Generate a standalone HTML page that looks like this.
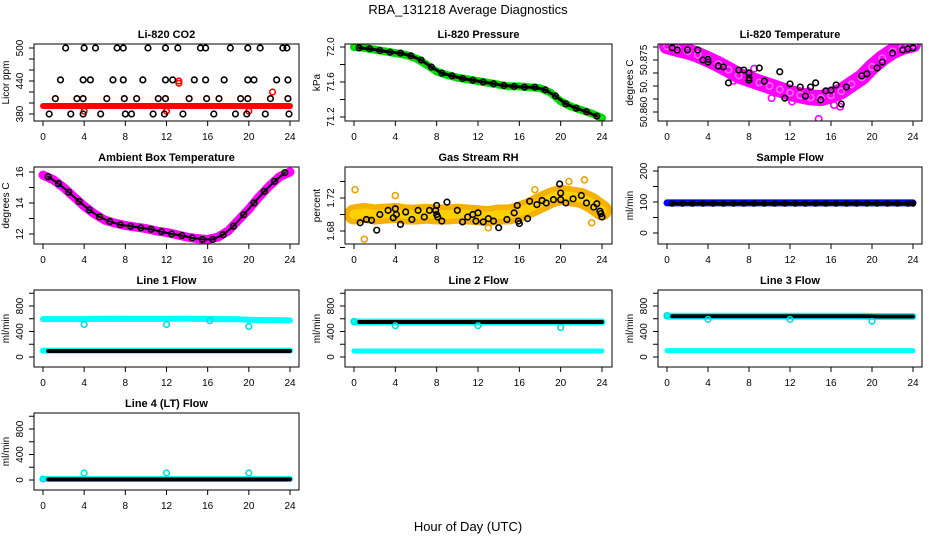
<!DOCTYPE html>
<html><head><meta charset="utf-8"><style>
html,body{margin:0;padding:0;background:#fff;}
svg{display:block;font-family:"Liberation Sans",Arial,sans-serif;}
</style></head><body>
<svg id="c" width="936" height="540" viewBox="0 0 936 540" xmlns="http://www.w3.org/2000/svg">
<text x="468" y="14" text-anchor="middle" font-size="13">RBA_131218  Average Diagnostics</text>
<text x="468" y="531" text-anchor="middle" font-size="13">Hour of Day (UTC)</text>
</svg>
<script>
const hours = [0,1,2,3,4,5,6,7,8,9,10,11,12,13,14,15,16,17,18,19,20,21,22,23,24];
const halfHours = [0.5,1.5,2.5,3.5,4.5,5.5,6.5,7.5,8.5,9.5,10.5,11.5,12.5,13.5,14.5,15.5,16.5,17.5,18.5,19.5,20.5,21.5,22.5,23.5];
const xTicks = [0,4,8,12,16,20,24];

// CO2
const co2BlackHrs = [2.2,4.0,5.1,7.2,7.8,10.2,11.9,13.1,15.3,15.8,18.2,19.9,21.1,23.3,23.7, 1.7,3.9,4.6,6.8,7.8,9.7,11.9,12.6,14.7,15.8,17.6,19.9,20.5,22.7,23.8, 1.2,3.3,3.9,6.2,7.9,9.1,11.2,11.9,14.2,15.9,17.1,19.2,19.9,22.1,23.8, 0.6,2.7,3.9,5.6,8.0,8.6,10.7,11.8,13.6,16.6,18.7,19.8,21.6,23.9];
const co2BlackVals = [500,500,500,500,500,500,500,500,500,500,500,500,500,500,500, 442,442,442,442,442,442,442,442,442,442,442,442,442,442,442, 408,408,408,408,408,408,408,408,408,408,408,408,408,408,408, 380,380,380,380,380,380,380,380,380,380,380,380,380,380];
const co2RedBand = [394.5,394.5,394.5,394.5,394.5,394.5,394.5,394.5,394.5,394.5,394.5,394.5,394.5,394.5,394.5,394.5,394.5,394.5,394.5,394.5,394.5,394.5,394.5,394.5,394.5];
const co2RedOutHrs = [4.0,12.0,13.2,13.2,20.0,22.3];
const co2RedOutVals = [385,385,440,436,385,420];

// Pressure
const pressureBand = [72.0,71.99,71.97,71.95,71.93,71.91,71.87,71.80,71.72,71.68,71.65,71.63,71.61,71.59,71.57,71.55,71.55,71.54,71.53,71.48,71.38,71.32,71.28,71.24,71.19];
const pressureBlack = [71.99,71.98,71.96,71.94,71.93,71.90,71.85,71.77,71.70,71.67,71.64,71.62,71.60,71.58,71.56,71.55,71.54,71.54,71.51,71.44,71.35,71.30,71.26,71.21];

// Li-820 temperature
const tempBand = [50.8790,50.8782,50.8775,50.8765,50.8752,50.8738,50.8722,50.8705,50.8695,50.8685,50.8675,50.8665,50.8655,50.8648,50.8642,50.8640,50.8648,50.8660,50.8680,50.8700,50.8730,50.8755,50.8775,50.8788,50.8795];
const tempBlackHrs = [0.5,1,2,3,3.5,4,4,5,5.5,6,7,7.5,8,8,8,9,9.5,11,11.5,12,13,13.5,14,14.5,15,15.5,16,16.5,17,17.5,19,19.5,20.5,21,22,23,23.5,24];
const tempBlackVals = [50.8785,50.8779,50.8779,50.8779,50.8750,50.8752,50.8744,50.8733,50.8730,50.8684,50.8721,50.8721,50.8713,50.8698,50.8692,50.8727,50.8689,50.8716,50.8640,50.8681,50.8672,50.8646,50.8672,50.8684,50.8635,50.8661,50.8663,50.8678,50.8623,50.8672,50.8704,50.8710,50.8727,50.8744,50.8770,50.8779,50.8782,50.8785];
const tempOutHrs = [1.5,6.5,8.5,10.2,12.2,13.8,14.8,16.3,16.9];
const tempOutVals = [50.8770,50.8690,50.8725,50.8640,50.8630,50.8660,50.8580,50.8620,50.8615];

// Ambient box temperature
const ambientBand = [15.8,15.5,15.0,14.4,13.8,13.3,12.9,12.7,12.55,12.45,12.35,12.2,12.1,11.95,11.8,11.7,11.65,11.8,12.2,12.9,13.6,14.4,15.1,15.7,16.0];
const ambientBlack = [15.7,15.25,14.7,14.1,13.55,13.1,12.8,12.6,12.5,12.4,12.3,12.15,12.0,11.9,11.75,11.65,11.65,11.95,12.5,13.25,14.0,14.75,15.4,15.95];

// Gas stream RH
const rhBand = [1.700,1.702,1.700,1.701,1.702,1.700,1.700,1.701,1.700,1.700,1.701,1.700,1.699,1.698,1.700,1.700,1.703,1.708,1.714,1.720,1.724,1.722,1.720,1.714,1.705];
const rhBlackHrs = [0.6,1.2,1.7,2.2,2.5,3.3,3.8,4.0,4.1,4.5,5,5.6,6.2,6.8,7.3,7.9,8.0,8.0,8.1,8.5,9.0,10.0,10.5,11.0,11.5,11.8,12.0,12.5,13,13.5,14.0,14.8,15.5,15.8,15.9,16.0,16.8,17.0,17.7,18.2,18.6,19.3,19.9,20.0,20.0,20.5,21.2,22.0,22.5,23.2,23.5,23.8,23.9,24];
const rhBlackVals = [1.690,1.694,1.693,1.681,1.700,1.705,1.696,1.707,1.700,1.688,1.703,1.694,1.705,1.697,1.705,1.705,1.711,1.700,1.697,1.692,1.715,1.705,1.691,1.697,1.700,1.692,1.702,1.691,1.695,1.692,1.684,1.694,1.702,1.711,1.692,1.689,1.695,1.716,1.712,1.717,1.714,1.718,1.737,1.726,1.718,1.714,1.719,1.723,1.714,1.709,1.713,1.704,1.701,1.697];
const rhOutHrs = [0.1,1.0,4.0,13.0,17.5,20.8,22.3,23.0];
const rhOutVals = [1.730,1.670,1.723,1.684,1.730,1.740,1.742,1.690];

// Sample flow
const sampleBand = [97,97,97,97,97,97,97,97,97,97,97,97,97,97,97,97,97,97,97,97,97,97,97,97,97];
const sampleBlack = [95,95,95,95,95,95,95,95,95,95,95,95,95,95,95,95,95,95,95,95,95,95,95,95,95];

// Line flows
const line1CyanHigh = [595,595,595,595,595,598,598,600,598,598,598,598,598,600,600,598,598,595,595,592,585,580,578,578,575];
const line1CyanLow = [100,100,100,100,100,100,100,100,100,100,100,100,100,100,100,100,100,100,100,100,100,100,100,100,100];
const line1Black = [95,95,95,95,95,95,95,95,95,95,95,95,95,95,95,95,95,95,95,95,95,95,95,95,95];
const line1OutHrs = [4,12,16.2,20];
const line1OutVals = [510,510,570,480];
const line2Black = [550,550,550,550,550,550,550,550,550,550,550,550,550,550,550,550,550,550,550,550,550,550,550,550,550];
const line2Cyan = [95,95,95,95,95,95,95,95,95,95,95,95,95,95,95,95,95,95,95,95,95,95,95,95,95];
const line2OutHrs = [0,4,12,20];
const line2OutVals = [560,490,490,460];
const line3Black = [640,640,640,640,640,640,640,640,640,640,640,640,640,640,640,640,640,640,640,640,635,635,635,635,635];
const line3Cyan = [100,100,100,100,100,100,100,100,100,100,100,100,100,100,100,100,100,100,100,100,100,100,100,100,100];
const line3OutHrs = [0,4,12,20];
const line3OutVals = [650,590,590,560];
const line4Black = [10,10,10,10,10,10,10,10,10,10,10,10,10,10,10,10,10,10,10,10,10,10,10,10,10];
const line4Cyan = [15,15,15,15,15,15,15,15,15,15,15,15,15,15,15,15,15,15,15,15,15,15,15,15,15];
const line4OutHrs = [0,4,12,20];
const line4OutVals = [15,110,110,110];

const NS = "http://www.w3.org/2000/svg";
const svg = document.getElementById('c');
const cols = [{l:34,r:299,x0:43,x24:290},{l:345,r:612,x0:354,x24:602},{l:658,r:922,x0:667,x24:913}];
const rows = [{t:44,b:121},{t:167,b:244},{t:290,b:367},{t:413,b:490}];

function mk(tag, attrs, parent){
  const e = document.createElementNS(NS, tag);
  for (const k in attrs) e.setAttribute(k, attrs[k]);
  (parent||svg).appendChild(e);
  return e;
}

function panel(name, ci, ri, title, ylab, v0, p0, v1, p1, yticks, ylabels){
  const c = cols[ci], r = rows[ri];
  const g = mk('g', {});
  
  
  const X = h => c.x0 + (c.x24 - c.x0) * h / 24;
  const Y = v => p0 + (p1 - p0) * (v - v0) / (v1 - v0);
  const clipId = 'clip-' + name;
  const cp = mk('clipPath', {id: clipId}, g);
  mk('rect', {x:c.l, y:r.t, width:c.r-c.l, height:r.b-r.t}, cp);
  const plot = mk('g', {'clip-path':'url(#'+clipId+')'}, g);
  
  
  const frame = mk('rect', {x:c.l, y:r.t, width:c.r-c.l, height:r.b-r.t, fill:'none', stroke:'#000', 'stroke-width':1}, g);
  
  
  const t = mk('text', {x:(c.l+c.r)/2, y:r.t-6, 'text-anchor':'middle', 'font-size':11, 'font-weight':'bold'}, g);
  t.textContent = title;
  
  
  xTicks.forEach(h => {
    mk('line', {x1:X(h), x2:X(h), y1:r.b, y2:r.b+5, stroke:'#000'}, g);
    const tl = mk('text', {x:X(h), y:r.b+19, 'text-anchor':'middle', 'font-size':10}, g);
    tl.textContent = h;
    
    
  });
  yticks.forEach((v, i) => {
    const y = Y(v);
    mk('line', {x1:c.l-5, x2:c.l, y1:y, y2:y, stroke:'#000'}, g);
    if (ylabels[i]) {
      const yl = mk('text', {x:c.l-11, y:y, 'text-anchor':'middle', 'font-size':10, transform:'rotate(-90 '+(c.l-11)+' '+y+')'}, g);
      yl.textContent = ylabels[i];
      
      
    }
  });
  const ym = (r.t + r.b) / 2;
  const at = mk('text', {x:c.l-25, y:ym, 'text-anchor':'middle', 'font-size':10, transform:'rotate(-90 '+(c.l-25)+' '+ym+')'}, g);
  at.textContent = ylab;
  
  
  return {X, Y, plot};
}

function band(p, xs, vs, color, w, name){
  const pts = xs.map((h,i) => p.X(h) + ',' + p.Y(vs[i])).join(' ');
  const pl = mk('polyline', {points:pts, fill:'none', stroke:color, 'stroke-width':w, 'stroke-linejoin':'round', 'stroke-linecap':'round'}, p.plot);
  
  
}
function pts(p, xs, vs, color, name, r){
  xs.forEach((h,i) => {
    const ci = mk('circle', {cx:p.X(h), cy:p.Y(vs[i]), r:r||2.8, fill:'none', stroke:color, 'stroke-width':1.6}, p.plot);
    
    
  });
}

// Panel 1: CO2
let p = panel('co2', 0, 0, 'Li-820 CO2', 'Licor ppm', 380, 114, 500, 48, [380,400,420,440,460,480,500], ['380','','','440','','','500']);
band(p, hours, co2RedBand, '#ff0000', 6, 'co2-red-series');
pts(p, co2RedOutHrs, co2RedOutVals, '#ff0000', 'co2-red-point');
pts(p, co2BlackHrs, co2BlackVals, '#000', 'co2-black-point');

// Panel 2: Pressure
p = panel('pressure', 1, 0, 'Li-820 Pressure', 'kPa', 71.2, 117, 72.0, 47, [71.2,71.4,71.6,71.8,72.0], ['71.2','','71.6','','72.0']);
band(p, hours, pressureBand, '#00ee00', 8, 'pressure-green-series');
pts(p, hours, pressureBand, '#00cc00', 'pressure-green-point');
band(p, halfHours, pressureBlack, '#000', 3, 'pressure-black-line');
pts(p, halfHours, pressureBlack, '#000', 'pressure-black-point');

// Panel 3: Li-820 temperature
p = panel('li820-temp', 2, 0, 'Li-820 Temperature', 'degrees C', 50.860, 112, 50.875, 60, [50.860,50.86375,50.8675,50.87125,50.875,50.87875], ['50.860','','50.','','50.875','']);
band(p, hours, tempBand, '#ff00ff', 16, 'temp-magenta-series');
pts(p, hours, tempBand, '#ff66ff', 'temp-magenta-point', 3.2);
pts(p, tempOutHrs, tempOutVals, '#ff00ff', 'temp-magenta-outlier', 3.2);
pts(p, tempBlackHrs, tempBlackVals, '#000', 'temp-black-point');

// Panel 4: Ambient box temperature
p = panel('ambient', 0, 1, 'Ambient Box Temperature', 'degrees C', 12, 234, 16, 172, [12,13,14,15,16], ['12','','14','','16']);
band(p, hours, ambientBand, '#ff00ff', 9, 'ambient-magenta-series');
band(p, halfHours, ambientBlack, '#000', 2, 'ambient-black-line');
pts(p, halfHours, ambientBlack, '#000', 'ambient-black-point');

// Panel 5: Gas stream RH
p = panel('rh', 1, 1, 'Gas Stream RH', 'percent', 1.68, 231, 1.72, 198, [1.66,1.68,1.70,1.72,1.74], ['','1.68','','1.72','']);
band(p, hours, rhBand, '#f5b000', 20, 'rh-orange-series');
band(p, hours, rhBand, '#ffd000', 9, 'rh-yellow-core');
pts(p, rhOutHrs, rhOutVals, '#f0a000', 'rh-orange-outlier', 3);
pts(p, rhBlackHrs, rhBlackVals, '#000', 'rh-black-point');

// Panel 6: Sample flow
p = panel('sample-flow', 2, 1, 'Sample Flow', 'ml/min', 0, 233, 200, 171, [0,50,100,150,200], ['0','','100','','200']);
band(p, hours, sampleBand, '#0000ff', 7, 'sample-blue-series');
band(p, halfHours.concat([24]), sampleBlack, '#000', 3, 'sample-black-series');
pts(p, halfHours.concat([24]), sampleBlack, '#000', 'sample-black-point', 2.4);

// Panel 7: Line 1 flow
const fT = [0,200,400,600,800,1000], fL = ['0','','400','','800',''];
p = panel('line1', 0, 2, 'Line 1 Flow', 'ml/min', 0, 357, 800, 306, fT, fL);
band(p, hours, line1CyanHigh, '#00ffff', 6, 'line1-cyan-high');
band(p, hours, line1CyanLow, '#00ffff', 6, 'line1-cyan-low');
band(p, halfHours.concat([24]), line1Black, '#000', 4, 'line1-black');
pts(p, line1OutHrs, line1OutVals, '#00dddd', 'line1-outlier');

// Panel 8: Line 2 flow
p = panel('line2', 1, 2, 'Line 2 Flow', 'ml/min', 0, 357, 800, 306, fT, fL);
band(p, hours, line2Cyan, '#00ffff', 5, 'line2-cyan');
band(p, hours, line2Black, '#00ffff', 7, 'line2-cyan-under');
band(p, halfHours.concat([24]), line2Black, '#000', 4, 'line2-black');
pts(p, line2OutHrs, line2OutVals, '#00dddd', 'line2-outlier');

// Panel 9: Line 3 flow
p = panel('line3', 2, 2, 'Line 3 Flow', 'ml/min', 0, 357, 800, 306, fT, fL);
band(p, hours, line3Cyan, '#00ffff', 5, 'line3-cyan');
band(p, hours, line3Black, '#00ffff', 7, 'line3-cyan-under');
band(p, halfHours.concat([24]), line3Black, '#000', 4, 'line3-black');
pts(p, line3OutHrs, line3OutVals, '#00dddd', 'line3-outlier');

// Panel 10: Line 4 flow
p = panel('line4', 0, 3, 'Line 4 (LT) Flow', 'ml/min', 0, 480, 800, 429, fT, fL);
band(p, hours, line4Cyan, '#00ffff', 6, 'line4-cyan');
band(p, halfHours.concat([24]), line4Black, '#000', 4, 'line4-black');
pts(p, line4OutHrs, line4OutVals, '#00dddd', 'line4-outlier');
</script>
</body></html>
